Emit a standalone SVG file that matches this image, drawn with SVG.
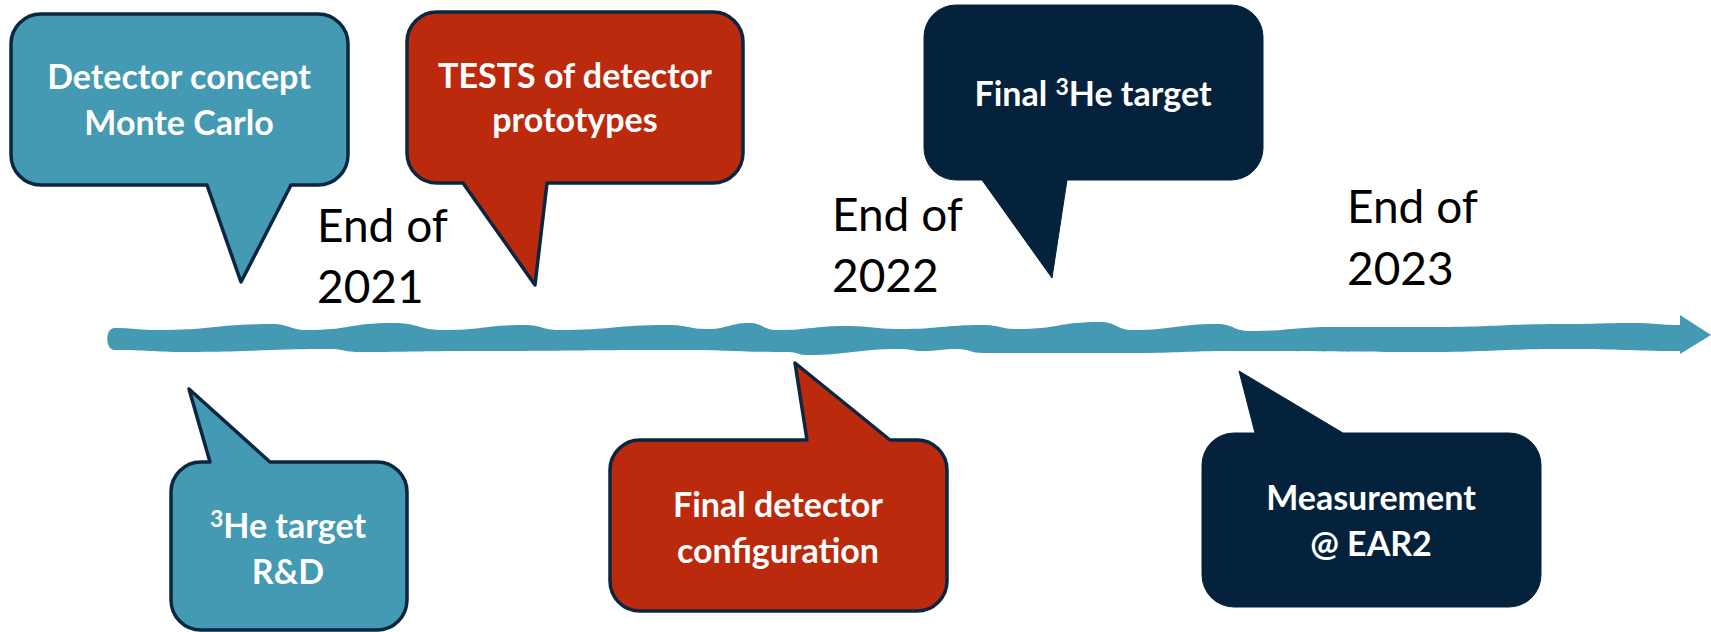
<svg xmlns="http://www.w3.org/2000/svg" width="1711" height="632" viewBox="0 0 1711 632">
  <style>
    .teal { fill: #4499b3; stroke: #0b2641; stroke-width: 3.5; stroke-linejoin: round; }
    .red { fill: #bc2a0d; stroke: #0b2641; stroke-width: 3.5; stroke-linejoin: round; }
    .navy { fill: #04223c; stroke: #04223c; stroke-width: 1; stroke-linejoin: round; }
    .label { font-family: Lato, "Liberation Sans", sans-serif; font-weight: bold; font-size: 34px; fill: #ffffff; text-anchor: middle; }
    .sup { font-size: 23px; }
    .year { font-family: Lato, "Liberation Sans", sans-serif; font-size: 46px; fill: #000000; }
  </style>
  <rect width="1711" height="632" fill="#ffffff"/>

  <!-- timeline arrow -->
  <g id="connectors">
    <path fill="#4499b3" d="M114,328
      C135.5,328 135.5,330 157,330
      C214.5,330 214.5,324 272,324
      C289.5,324 289.5,330 307,330
      C350,330 350,323 393,323
      C418.5,323 418.5,330 444,330
      C484.5,330 484.5,325 525,325
      C542,325 542,330 559,330
      C613.5,330 613.5,325 668,325
      C688,325 688,329 708,329
      C728.5,329 728.5,323 749,323
      C763,323 763,330 777,330
      C811.5,330 811.5,326 846,326
      C873,326 873,329 900,329
      C941.5,329 941.5,325 983,325
      C1000,325 1000,329 1017,329
      C1058.5,329 1058.5,322 1100,322
      C1116.5,322 1116.5,330 1133,330
      C1175,330 1175,324 1217,324
      C1233.5,324 1233.5,331 1250,331
      C1291.5,331 1291.5,327 1333,327
      C1383,327 1383,327 1433,327
      C1500,327 1500,324 1567,324
      C1600,324 1600,323 1633,323
      C1656.5,323 1656.5,325 1680,325
      L1680,315 L1711,335 L1680,354 L1680,351
      C1623.5,351 1623.5,349 1567,349
      C1492,349 1492,352 1417,352
      C1325,352 1325,351 1233,351
      C1183,351 1183,353 1133,353
      C1058,353 1058,353 983,353
      C970,353 970,349 957,349
      C940,349 940,351 923,351
      C911.5,351 911.5,349 900,349
      C853,349 853,355 806,355
      C797.5,355 797.5,352 789,352
      C731.5,352 731.5,350 674,350
      C573.5,350 573.5,351 473,351
      C415.5,351 415.5,352 358,352
      C344,352 344,349 330,349
      C258,349 258,352 186,352
      C150,352 150,350 114,350
      C105,349 105,329 114,328 Z"/>
  </g>

  <!-- year markers -->
  <g id="year-2021">
    <text class="year" x="317" y="242">End of</text>
    <text class="year" x="317" y="303">2021</text>
  </g>
  <g id="year-2022">
    <text class="year" x="832" y="231">End of</text>
    <text class="year" x="832" y="292">2022</text>
  </g>
  <g id="year-2023">
    <text class="year" x="1347" y="223">End of</text>
    <text class="year" x="1347" y="285">2023</text>
  </g>

  <!-- callouts above the timeline -->
  <g id="detector-concept">
    <path class="teal" d="M41,14 H318 A30,30 0 0 1 348,44 V155 A30,30 0 0 1 318,185 H291 L241,282 L207,185 H41 A30,30 0 0 1 11,155 V44 A30,30 0 0 1 41,14 Z"/>
    <text class="label" x="179" y="89">Detector concept</text>
    <text class="label" x="179" y="135">Monte Carlo</text>
  </g>

  <g id="tests-prototypes">
    <path class="red" d="M437,12 H713 A30,30 0 0 1 743,42 V153 A30,30 0 0 1 713,183 H547 L535,285 L463,183 H437 A30,30 0 0 1 407,153 V42 A30,30 0 0 1 437,12 Z"/>
    <text class="label" x="575" y="88">TESTS of detector</text>
    <text class="label" x="575" y="132">prototypes</text>
  </g>

  <g id="final-target">
    <path class="navy" d="M956,5 H1231 A32,32 0 0 1 1263,37 V148 A32,32 0 0 1 1231,180 H1067 L1052,278 L982,180 H956 A32,32 0 0 1 924,148 V37 A32,32 0 0 1 956,5 Z"/>
    <text class="label" x="1093" y="106">Final <tspan class="sup" dy="-11">3</tspan><tspan dy="11">He target</tspan></text>
  </g>

  <!-- callouts below the timeline -->
  <g id="target-rnd">
    <path class="teal" d="M201,462 H210 L189,389 L270,462 H377 A30,30 0 0 1 407,492 V600 A30,30 0 0 1 377,630 H201 A30,30 0 0 1 171,600 V492 A30,30 0 0 1 201,462 Z"/>
    <text class="label" x="288" y="538"><tspan class="sup" dy="-11">3</tspan><tspan dy="11">He target</tspan></text>
    <text class="label" x="288" y="584">R&amp;D</text>
  </g>

  <g id="final-detector">
    <path class="red" d="M640,440 H807 L795,363 L890,440 H917 A30,30 0 0 1 947,470 V581 A30,30 0 0 1 917,611 H640 A30,30 0 0 1 610,581 V470 A30,30 0 0 1 640,440 Z"/>
    <text class="label" x="778" y="517">Final detector</text>
    <text class="label" x="778" y="563">configuration</text>
  </g>

  <g id="measurement">
    <path class="navy" d="M1234,433 H1255 L1239,371 L1343,433 H1509 A32,32 0 0 1 1541,465 V575 A32,32 0 0 1 1509,607 H1234 A32,32 0 0 1 1202,575 V465 A32,32 0 0 1 1234,433 Z"/>
    <text class="label" x="1371" y="510">Measurement</text>
    <text class="label" x="1371" y="556">@ EAR2</text>
  </g>
</svg>
